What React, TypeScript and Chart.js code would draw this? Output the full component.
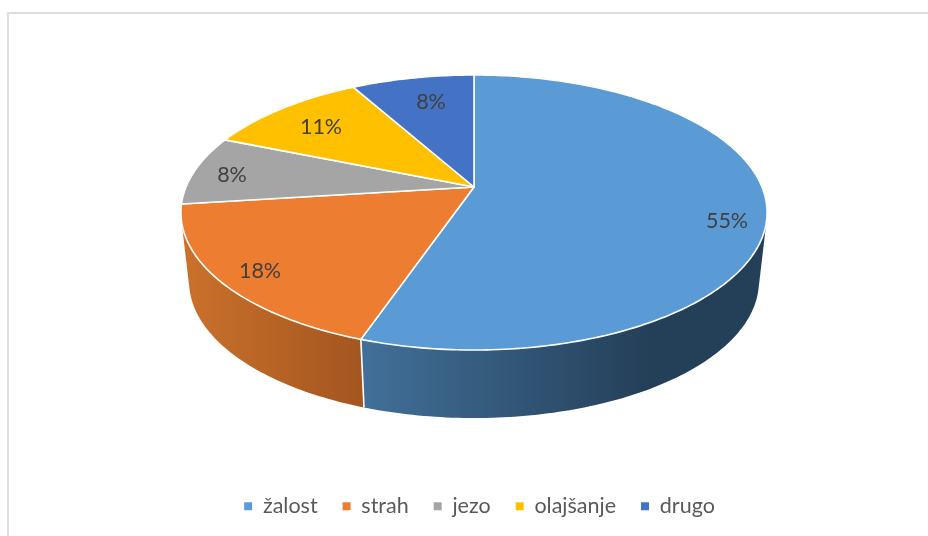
import React, { useEffect, useRef } from "react";
import { Chart, registerables } from "chart.js";

Chart.register(...registerables);

const categories = ["žalost", "strah", "jezo", "olajšanje", "drugo"];
const shares = [55.25, 17.75, 8.2, 10.7, 8.1];
const colors = ["#5B9BD5", "#ED7D31", "#A5A5A5", "#FFC000", "#4472C4"];
const wallColors: [string, string][] = [
  ["#42709A", "#243F58"],
  ["#CB712C", "#A3561F"],
  ["#8A8A8A", "#6E6E6E"],
  ["#C89700", "#A88000"],
  ["#3A62A8", "#2F5290"],
];
const wallGradientX: [number, number][] = [
  [360, 650],
  [182, 362],
  [182, 360],
  [226, 354],
  [354, 474],
];
const labelAnchors: [number, number][] = [
  [727, 221],
  [260, 271],
  [232, 175],
  [321, 127],
  [431, 102],
];

const TOP = { cx: 474, cy: 187, rx: 288, ry: 132.8, p: 0.1855 };
const BOTTOM = { cx: 474, cy: 256, rx: 280, ry: 132, p: 0.1855 };

type Disc = typeof TOP;
const project = (d: Disc, angle: number) => {
  const u = Math.cos(angle);
  const v = Math.sin(angle);
  const w = 1 - d.p * v;
  return { x: d.cx + (d.rx * u) / w, y: d.cy + (d.ry * v) / w };
};

const rimPoints = (d: Disc, from: number, to: number) => {
  const steps = Math.max(8, Math.ceil(Math.abs(to - from) * 60));
  const pts = [];
  for (let i = 0; i <= steps; i++) pts.push(project(d, from + ((to - from) * i) / steps));
  return pts;
};

const pie3d = {
  id: "pie3d",
  beforeDraw(chart: any) {
    const { ctx, width, height } = chart;
    ctx.save();
    ctx.fillStyle = "#FFFFFF";
    ctx.fillRect(0, 0, width, height);
    ctx.fillStyle = "#DEDEDE";
    ctx.fillRect(7, 12, width - 7, 2);
    ctx.fillRect(7, 12, 2, height - 12);
    ctx.restore();
  },
  beforeDatasetsDraw(chart: any) {
    const { ctx } = chart;
    const arcs = chart.getDatasetMeta(0).data.map((arc: any, i: number) => ({
      i,
      start: arc.startAngle as number,
      end: arc.endAngle as number,
    }));
    const order = [...arcs].sort(
      (a: any, b: any) => Math.sin((a.start + a.end) / 2) - Math.sin((b.start + b.end) / 2),
    );
    ctx.save();
    for (const a of order) {
      const top = rimPoints(TOP, a.start, a.end);
      const bottom = rimPoints(BOTTOM, a.start, a.end);
      const [x0, x1] = wallGradientX[a.i];
      const g = ctx.createLinearGradient(x0, 0, x1, 0);
      g.addColorStop(0, wallColors[a.i][0]);
      g.addColorStop(1, wallColors[a.i][1]);
      ctx.fillStyle = g;
      ctx.beginPath();
      for (let k = 0; k + 1 < top.length; k++) {
        let quad = [top[k], top[k + 1], bottom[k + 1], bottom[k]];
        let area = 0;
        quad.forEach((p, n) => {
          const q = quad[(n + 1) % 4];
          area += p.x * q.y - q.x * p.y;
        });
        if (area < 0) quad = quad.reverse();
        quad.forEach((p, n) => (n ? ctx.lineTo(p.x, p.y) : ctx.moveTo(p.x, p.y)));
        ctx.closePath();
      }
      ctx.fill();
    }
    ctx.strokeStyle = "#FFFFFF";
    ctx.lineWidth = 1.6;
    for (const a of arcs) {
      if (Math.sin(a.end) > 0.5) {
        const t = project(TOP, a.end);
        const b = project(BOTTOM, a.end);
        ctx.beginPath();
        ctx.moveTo(t.x, t.y);
        ctx.lineTo(b.x, b.y);
        ctx.stroke();
      }
    }
    ctx.lineJoin = "round";
    for (const a of arcs) {
      const pts = rimPoints(TOP, a.start, a.end);
      ctx.fillStyle = colors[a.i];
      ctx.beginPath();
      ctx.moveTo(TOP.cx, TOP.cy);
      pts.forEach((p) => ctx.lineTo(p.x, p.y));
      ctx.closePath();
      ctx.fill();
      ctx.stroke();
    }
    ctx.fillStyle = "#404040";
    ctx.font = "21.5px Lato";
    ctx.textAlign = "center";
    ctx.textBaseline = "middle";
    arcs.forEach((a: any) => {
      const [x, y] = labelAnchors[a.i];
      ctx.fillText(`${Math.round(shares[a.i])}%`, x, y);
    });
    ctx.restore();
    return false;
  },
};

export default function App() {
  const ref = useRef<HTMLCanvasElement>(null);
  useEffect(() => {
    const chart = new Chart(ref.current!, {
      type: "pie",
      data: {
        labels: categories,
        datasets: [{ data: shares, backgroundColor: colors, borderWidth: 0 }],
      },
      options: {
        animation: false,
        responsive: false,
        layout: { padding: { left: 31, bottom: 9 } },
        plugins: {
          tooltip: { enabled: false },
          legend: {
            position: "bottom",
            labels: {
              boxWidth: 8,
              boxHeight: 8,
              padding: 25,
              color: "#595959",
              font: { family: "Lato", size: 21.5 },
            },
          },
        },
      },
      plugins: [pie3d],
    } as any);
    return () => chart.destroy();
  }, []);
  return (
    <div style={{ position: "absolute", left: 0, top: 0 }}>
      <canvas ref={ref} width={928} height={536} style={{ display: "block" }} />
    </div>
  );
}
